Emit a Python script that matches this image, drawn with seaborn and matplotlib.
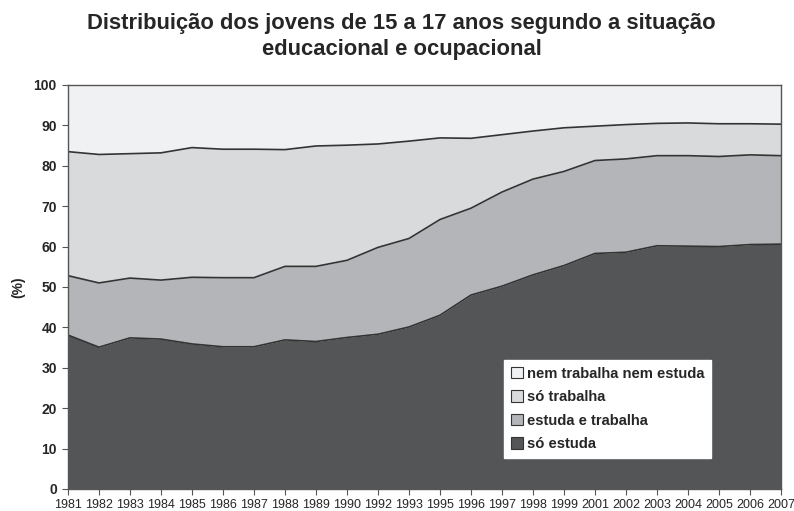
import numpy as np
import pandas as pd
import seaborn as sns
import matplotlib.pyplot as plt

years = ["1981", "1982", "1983", "1984", "1985", "1986", "1987", "1988", "1989", "1990",
         "1992", "1993", "1995", "1996", "1997", "1998", "1999", "2001", "2002", "2003",
         "2004", "2005", "2006", "2007"]

# cumulative boundaries (%)
so_estuda = [38.1, 35.1, 37.4, 37.1, 35.9, 35.2, 35.2, 36.9, 36.5, 37.5, 38.3, 40.1,
             43.0, 48.0, 50.2, 53.0, 55.3, 58.3, 58.6, 60.2, 60.1, 60.0, 60.5, 60.6]
ate_estuda_trabalha = [52.8, 51.0, 52.2, 51.7, 52.4, 52.3, 52.3, 55.1, 55.1, 56.6, 59.8, 62.0,
                       66.7, 69.5, 73.5, 76.7, 78.6, 81.3, 81.7, 82.5, 82.5, 82.3, 82.7, 82.5]
ate_so_trabalha = [83.5, 82.8, 83.0, 83.2, 84.5, 84.1, 84.1, 84.0, 84.9, 85.1, 85.4, 86.1,
                   86.9, 86.8, 87.7, 88.6, 89.4, 89.8, 90.2, 90.5, 90.6, 90.4, 90.4, 90.3]

labels = ["só estuda", "estuda e trabalha", "só trabalha", "nem trabalha nem estuda"]
colors = ["#545557", "#b4b5b8", "#d9dadc", "#f0f1f3"]


def main():
    sns.set_theme(style="white")
    plt.rcParams['font.family'] = ['Liberation Sans', 'DejaVu Sans']

    x = np.arange(len(years))
    c1 = np.array(so_estuda)
    c2 = np.array(ate_estuda_trabalha)
    c3 = np.array(ate_so_trabalha)
    layers = [c1, c2 - c1, c3 - c2, 100 - c3]

    fig = plt.figure(figsize=(7.94, 5.11), dpi=100)
    ax = fig.add_axes([0.0856, 0.0431, 0.8980, 0.7906])

    ax.stackplot(x, *layers, colors=colors, labels=labels, linewidth=0)

    df = pd.DataFrame({"x": np.tile(x, 3),
                       "y": np.concatenate([c1, c2, c3]),
                       "b": np.repeat(["a", "b", "c"], len(x))})
    sns.lineplot(data=df, x="x", y="y", units="b", estimator=None, color="#333333",
                 linewidth=1.2, ax=ax, legend=False)

    ax.set_xlim(0, len(years) - 1)
    ax.set_ylim(0, 100)
    ax.set_xticks(x)
    ax.set_xticklabels(years, fontsize=9)
    ax.set_yticks(range(0, 101, 10))
    ax.set_yticklabels([str(v) for v in range(0, 101, 10)], fontsize=10, fontweight='bold')
    ax.tick_params(axis='x', length=4, width=0.8, color="#555555", pad=3, direction='out', bottom=True)
    ax.tick_params(axis='y', length=4, width=0.8, color="#555555", pad=4, direction='out', left=True)
    ax.set_xlabel("")
    ax.set_ylabel("(%)", fontsize=10, fontweight='bold', labelpad=6)
    for s in ax.spines.values():
        s.set_color("#555555")
        s.set_linewidth(1.0)

    handles = [plt.Rectangle((0, 0), 1, 1, facecolor=colors[i], edgecolor="#333333", linewidth=0.8)
               for i in range(3, -1, -1)]
    ax.legend(handles, labels[::-1], loc='lower left', bbox_to_anchor=(0.612, 0.077),
              borderaxespad=0, frameon=True, fancybox=False, framealpha=1, edgecolor="white",
              prop={'weight': 'bold', 'size': 10.6}, handlelength=0.8, handleheight=0.8,
              handletextpad=0.3, labelspacing=0.65, borderpad=0.45)

    fig.suptitle("Distribuição dos jovens de 15 a 17 anos segundo a situação\neducacional e ocupacional",
                 x=0.506, y=0.975, fontsize=15.8, fontweight='bold', linespacing=1.3)

    fig.savefig("out.png", dpi=100)


if __name__ == "__main__":
    main()
